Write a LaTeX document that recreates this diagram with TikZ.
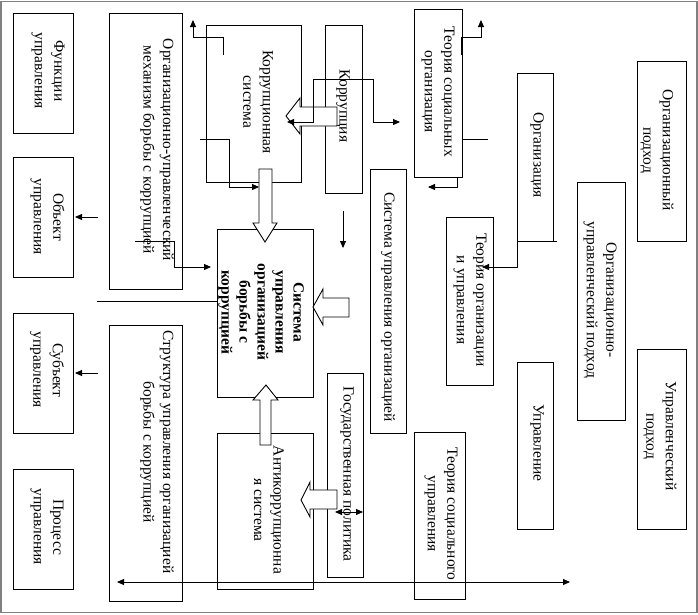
\documentclass[tikz,border=0pt]{standalone}
\usepackage{fontspec}
\setmainfont{Liberation Serif}
\usetikzlibrary{arrows.meta}
\definecolor{framegray}{RGB}{128,128,128}
\begin{document}
\begin{tikzpicture}[x=1pt,y=-1pt,
 box/.style={draw,line width=0.9pt,inner sep=0pt,outer sep=0pt},
 txt/.style={rotate=-90,align=center,inner sep=0pt,font=\fontsize{15.5}{19.5}\selectfont},
 btxt/.style={rotate=-90,align=center,inner sep=0pt,font=\fontsize{15.5}{18}\selectfont\bfseries},
 conn/.style={draw,line width=0.9pt,-{Triangle[length=7pt,width=6pt]}},
 dconn/.style={draw,line width=0.9pt,{Triangle[length=7pt,width=6pt]}-{Triangle[length=7pt,width=6pt]}},
 plain/.style={draw,line width=0.9pt},
 block/.style={draw,line width=0.9pt,fill=white,line join=miter}]
\useasboundingbox (0,0) rectangle (698,614);
\draw[framegray,line width=1.5pt] (1,1.7) rectangle (697,612.7);

% boxes
\node[box,minimum width=60pt,minimum height=120pt] (fun) at (43,73) {};
\node[box,minimum width=60pt,minimum height=120pt] (obj) at (43,217) {};
\node[box,minimum width=60pt,minimum height=120pt] (subj) at (43,373) {};
\node[box,minimum width=60pt,minimum height=120pt] (proc) at (43,529) {};
\node[box,minimum width=73pt,minimum height=276pt] (mech) at (145.5,151) {};
\node[box,minimum width=73pt,minimum height=276pt] (struct) at (145.5,463) {};
\node[box,minimum width=95pt,minimum height=157pt] (ksys) at (253.5,103.5) {};
\node[box,minimum width=37pt,minimum height=168pt] (korr) at (343.5,109) {};
\node[box,minimum width=96pt,minimum height=168pt] (central) at (265,313) {};
\node[box,minimum width=96pt,minimum height=156pt] (anti) at (265,511) {};
\node[box,minimum width=36pt,minimum height=204pt] (gos) at (345,475) {};
\node[box,minimum width=36pt,minimum height=264pt] (sysorg) at (388,301) {};
\node[box,minimum width=48pt,minimum height=168pt] (tso) at (438,93) {};
\node[box,minimum width=36pt,minimum height=168pt] (org) at (535,157) {};
\node[box,minimum width=47pt,minimum height=168pt] (toiu) at (469.5,301) {};
\node[box,minimum width=48pt,minimum height=238pt] (oup) at (601,301) {};
\node[box,minimum width=49pt,minimum height=180pt] (orgp) at (661.5,151) {};
\node[box,minimum width=36pt,minimum height=167pt] (upr) at (535,445.5) {};
\node[box,minimum width=51pt,minimum height=167pt] (tsu) at (439.5,515.5) {};
\node[box,minimum width=49pt,minimum height=180pt] (upp) at (661.5,439) {};

% hollow block arrows
\draw[block] (259,169) -- (272,169) -- (272,223) -- (277,223) -- (265,242) -- (253,223) -- (259,223) -- cycle;
\draw[block] (337,107) -- (337,126) -- (300,126) -- (300,134) -- (286,116) -- (300,98) -- (300,107) -- cycle;
\draw[block] (349,298) -- (349,317) -- (323,317) -- (323,325) -- (313,307) -- (323,289) -- (323,298) -- cycle;
\draw[block] (260,445) -- (260,400) -- (253,400) -- (266,385) -- (278,400) -- (271,400) -- (271,445) -- cycle;
\draw[block] (337,490) -- (337,509) -- (310,509) -- (310,517) -- (301,500) -- (310,482) -- (310,490) -- cycle;

% texts
\node[txt] (tfun) at (48,71) {Функции\\управления};
\node[txt] (tobj) at (47.5,217) {Объект\\управления};
\node[txt] (tsubj) at (47,370) {Субъект\\управления};
\node[txt] (tproc) at (47,527) {Процесс\\управления};
\node[txt] (tmech) at (157,150) {Организационно-управленческий\\механизм борьбы с коррупцией};
\node[txt] (tstruct) at (157,452) {Структура управления организацией\\борьбы с коррупцией};
\node[txt] (tksys) at (258,102) {Коррупционная\\система};
\node[txt] (tkorr) at (343,106) {Коррупция};
\node[btxt] (tcentral) at (261,312) {Система\\управления\\организацией\\борьбы с\\коррупцией};
\node[txt] (tanti) at (269,510) {Антикоррупционна\\я система};
\node[txt] (tgos) at (347,474) {Государственная политика};
\node[txt] (tsysorg) at (388,307) {Система управления организацией};
\node[txt] (ttso) at (438,92) {Теория социальных\\организация};
\node[txt] (torg) at (537,155) {Организация};
\node[txt] (ttoiu) at (470,300) {Теория организации\\и управления};
\node[txt] (toup) at (600,300) {Организационно-\\управленческий подход};
\node[txt] (torgp) at (657,150) {Организационный\\подход};
\node[txt] (tupr) at (537,443) {Управление};
\node[txt] (ttsu) at (441,514) {Теория социального\\управления};
\node[txt] (tupp) at (660,436) {Управленческий\\подход};

% thin connectors
\coordinate (c1) at (223,55);
\coordinate (c1e) at (193,20);
\draw[conn] (c1) -- (223,37) -| (c1e);
\coordinate (c2) at (200,139);
\draw[conn] (c2) -| (229,187) -- (259,187);
\draw[dconn] (287,122) -- (313,122) -- (313,79) -- (373,79) -- (373,122) -- (400,122);
\coordinate (c4) at (343,211);
\draw[conn] (c4) -- (343,248);
\draw[conn] (tso.east |- 0,37) -- (481,37) -- (481,20);
\draw[line width=2pt] (462,37) -- (462,55);
\draw[plain] (462,139) -- (488,139);
\draw[conn] (457,177) -- (457,187) -- (428,187);
\draw[conn] (557,241) -- (517,241) -- (517,267) -- (482,267);
\coordinate (c9) at (135,241);
\draw[conn] (c9) -- (174,241) -- (174,267) -- (211,267);
\draw[conn] (98,217) -- ([xshift=2pt]obj.east);
\draw[conn] (98,373) -- ([xshift=2pt]subj.east);
\draw[plain] (97,301) -- (central.west |- 0,301);
\draw[dconn] (117,582) -- (570,582);
\draw[dconn] (335,512) -- (363,512);
\end{tikzpicture}
\end{document}
